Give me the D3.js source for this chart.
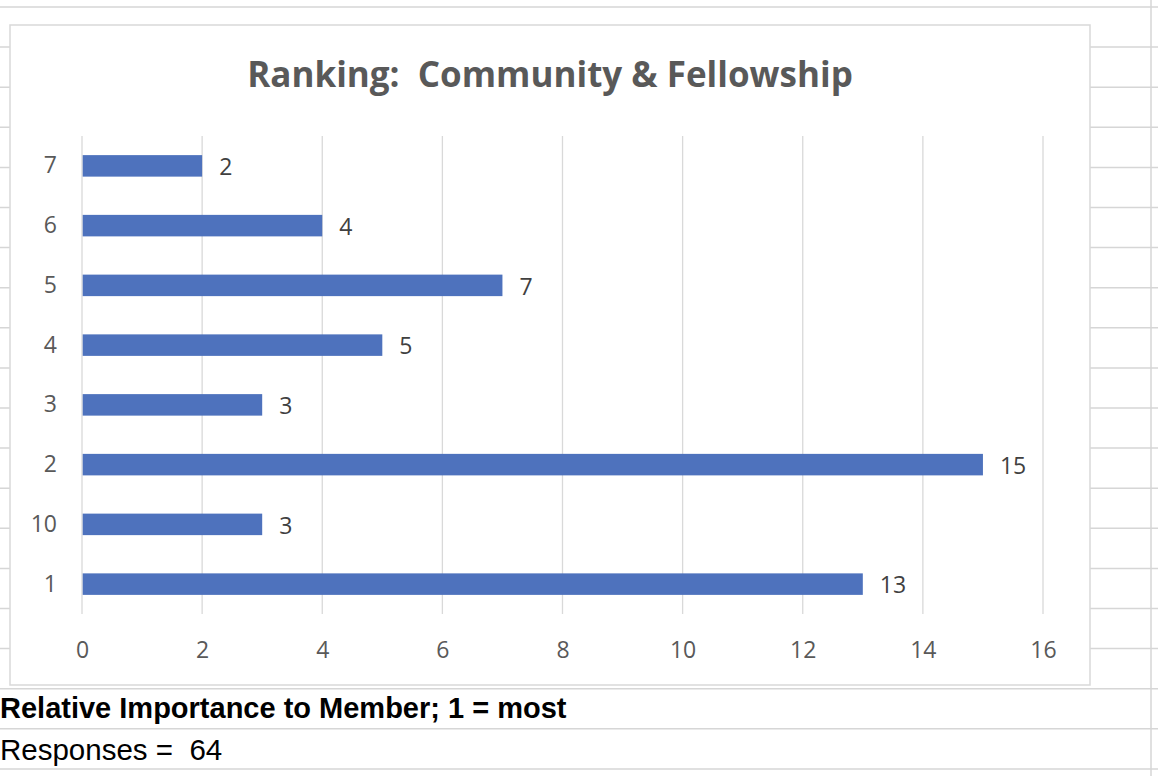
<!DOCTYPE html>
<html lang="en">
<head>
<meta charset="utf-8">
<title>Ranking: Community &amp; Fellowship</title>
<script src="https://cdn.jsdelivr.net/npm/d3@7"></script>
<style>
  body { margin: 0; background: #fff; }
  svg { display: block; }
  text { white-space: pre; }
</style>
</head>
<body>
<script>
// data, top row first as in the chart
var ranks = ["7", "6", "5", "4", "3", "2", "10", "1"];
var counts = [2, 4, 7, 5, 3, 15, 3, 13];
var xTicks = [0, 2, 4, 6, 8, 10, 12, 14, 16];
var titleText = "Ranking:  Community & Fellowship";
var noteBold = "Relative Importance to Member; 1 = most";
var noteRegular = "Responses =  64";

var W = 1158, H = 776;
var svg = d3.select("body").append("svg").attr("width", W).attr("height", H);

// spreadsheet grid behind the chart
var gridCol = "#d6d6d6";
var rows = d3.range(20).map(function(i) { return 7 + i * 40.1; });
svg.selectAll("line.row").data(rows).enter().append("line")
  .attr("x1", 0).attr("x2", W)
  .attr("y1", function(d) { return d; }).attr("y2", function(d) { return d; })
  .attr("stroke", gridCol).attr("stroke-width", 1.5);
svg.append("line").attr("x1", 1151).attr("x2", 1151).attr("y1", 0).attr("y2", H)
  .attr("stroke", gridCol).attr("stroke-width", 1.5);

// chart box
var box = { x: 10, y: 25, w: 1080, h: 660 };
svg.append("rect")
  .attr("x", box.x).attr("y", box.y).attr("width", box.w).attr("height", box.h)
  .attr("fill", "#fff").attr("stroke", "#d9d9d9").attr("stroke-width", 1.5);

svg.append("text")
  .attr("x", 550).attr("y", 87)
  .attr("text-anchor", "middle")
  .attr("font-family", "'Open Sans', sans-serif")
  .attr("font-weight", "bold")
  .attr("font-size", "35px")
  .attr("fill", "#595959")
  .text(titleText);

var plot = { left: 82, right: 1043, top: 136, bottom: 614 };

var x = d3.scaleLinear().domain([0, 16]).range([plot.left, plot.right]);
var y = d3.scaleBand().domain(ranks).range([plot.top, plot.bottom])
  .paddingInner(0.64).paddingOuter(0.32);

// vertical gridlines
svg.selectAll("line.grid").data(xTicks).enter().append("line")
  .attr("x1", function(d) { return x(d); }).attr("x2", function(d) { return x(d); })
  .attr("y1", plot.top).attr("y2", plot.bottom)
  .attr("stroke", "#d9d9d9").attr("stroke-width", 1.3);

// bars
svg.selectAll("rect.bar").data(counts).enter().append("rect")
  .attr("x", x(0) + 0.7)
  .attr("y", function(d, i) { return y(ranks[i]); })
  .attr("width", function(d) { return x(d) - x(0) - 0.7; })
  .attr("height", y.bandwidth())
  .attr("fill", "#4e72bd");

// data labels
svg.selectAll("text.lbl").data(counts).enter().append("text")
  .attr("x", function(d) { return x(d) + 17; })
  .attr("y", function(d, i) { return y(ranks[i]) + y.bandwidth() / 2 + 1; })
  .attr("dy", "0.36em")
  .attr("font-family", "'Open Sans', sans-serif")
  .attr("font-size", "23px")
  .attr("fill", "#404040")
  .text(function(d) { return d; });

// axes
var xAxis = d3.axisBottom(x).tickValues(xTicks).tickSize(0).tickPadding(28);
var gx = svg.append("g").attr("transform", "translate(0," + plot.bottom + ")").call(xAxis);
gx.select(".domain").remove();
gx.selectAll("text")
  .attr("font-family", "'Open Sans', sans-serif")
  .attr("font-size", "23px")
  .attr("fill", "#595959");

var yAxis = d3.axisLeft(y).tickSize(0).tickPadding(25);
var gy = svg.append("g").attr("transform", "translate(" + plot.left + ",0)").call(yAxis);
gy.select(".domain").remove();
gy.selectAll("text")
  .attr("font-family", "'Open Sans', sans-serif")
  .attr("font-size", "23px")
  .attr("fill", "#595959");

// cell notes below the chart
svg.append("text")
  .attr("x", 0).attr("y", 718)
  .attr("font-family", "'Liberation Sans', Arial, sans-serif")
  .attr("font-weight", "bold")
  .attr("font-size", "29px")
  .attr("fill", "#000")
  .text(noteBold);
svg.append("text")
  .attr("x", 0).attr("y", 760)
  .attr("font-family", "'Liberation Sans', Arial, sans-serif")
  .attr("font-size", "29.5px")
  .attr("fill", "#000")
  .text(noteRegular);
</script>
</body>
</html>
